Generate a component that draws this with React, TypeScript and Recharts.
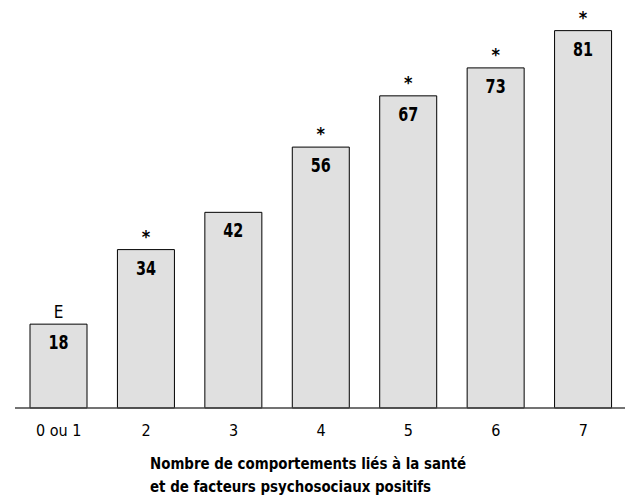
import React from 'react';
import { BarChart, Bar, XAxis, YAxis, LabelList } from 'recharts';

const categories = ['0 ou 1', '2', '3', '4', '5', '6', '7'];
const values = [18, 34, 42, 56, 67, 73, 81];
const marks = ['E', '*', '', '*', '*', '*', '*'];
const titleLines = [
  'Nombre de comportements liés à la santé',
  'et de facteurs psychosociaux positifs',
];

const data = categories.map((name, i) => ({ name, value: values[i], mark: marks[i] }));

const FONT = "'Liberation Sans Narrow', 'Arial Narrow', 'DejaVu Sans Condensed', sans-serif";

// narrow bold number inside the top of each bar
const ValueLabel = (props: any) => {
  const { x, y, width, value } = props;
  const cx = x + width / 2;
  return (
    <text
      transform={`translate(${cx}, ${y + 25}) scale(0.8, 1)`}
      textAnchor="middle"
      fontFamily={FONT}
      fontSize={20}
      fontWeight="bold"
      fill="#000"
    >
      {value}
    </text>
  );
};

const MarkLabel = (props: any) => {
  const { x, y, width, value } = props;
  if (!value) return null;
  const star = value === '*';
  return (
    <text
      x={x + width / 2}
      y={star ? y - 7 : y - 6}
      textAnchor="middle"
      fontFamily={FONT}
      fontSize={star ? 18 : 17}
      fontWeight={star ? 'bold' : 'normal'}
      fill="#000"
    >
      {value}
    </text>
  );
};

export default function App() {
  return (
    <div style={{ position: 'absolute', left: 0, top: 0, width: 625, height: 497, overflow: 'hidden', background: '#fff' }}>
      <BarChart
        width={627}
        height={440}
        data={data}
        margin={{ top: 12, right: 0, left: 15, bottom: 0 }}
        barSize={57}
      >
        <XAxis
          dataKey="name"
          tickLine={false}
          tickSize={0}
          tickMargin={17}
          height={32}
          axisLine={{ stroke: '#444', strokeWidth: 1.5 }}
          tick={{ fill: '#000', fontSize: 16, fontFamily: FONT }}
          interval={0}
        />
        <YAxis hide domain={[0, 85]} />
        <Bar dataKey="value" fill="#e0e0e0" stroke="#000" strokeWidth={1} isAnimationActive={false}>
          <LabelList dataKey="value" content={ValueLabel} />
          <LabelList dataKey="mark" content={MarkLabel} />
        </Bar>
      </BarChart>
      <div
        style={{
          position: 'absolute',
          left: 150,
          top: 452,
          fontFamily: FONT,
          fontWeight: 'bold',
          fontSize: 16,
          lineHeight: '23px',
          color: '#000',
          whiteSpace: 'nowrap',
          transform: 'scaleX(0.93)',
          transformOrigin: 'left top',
        }}
      >
        {titleLines.map((t) => (
          <div key={t}>{t}</div>
        ))}
      </div>
    </div>
  );
}
